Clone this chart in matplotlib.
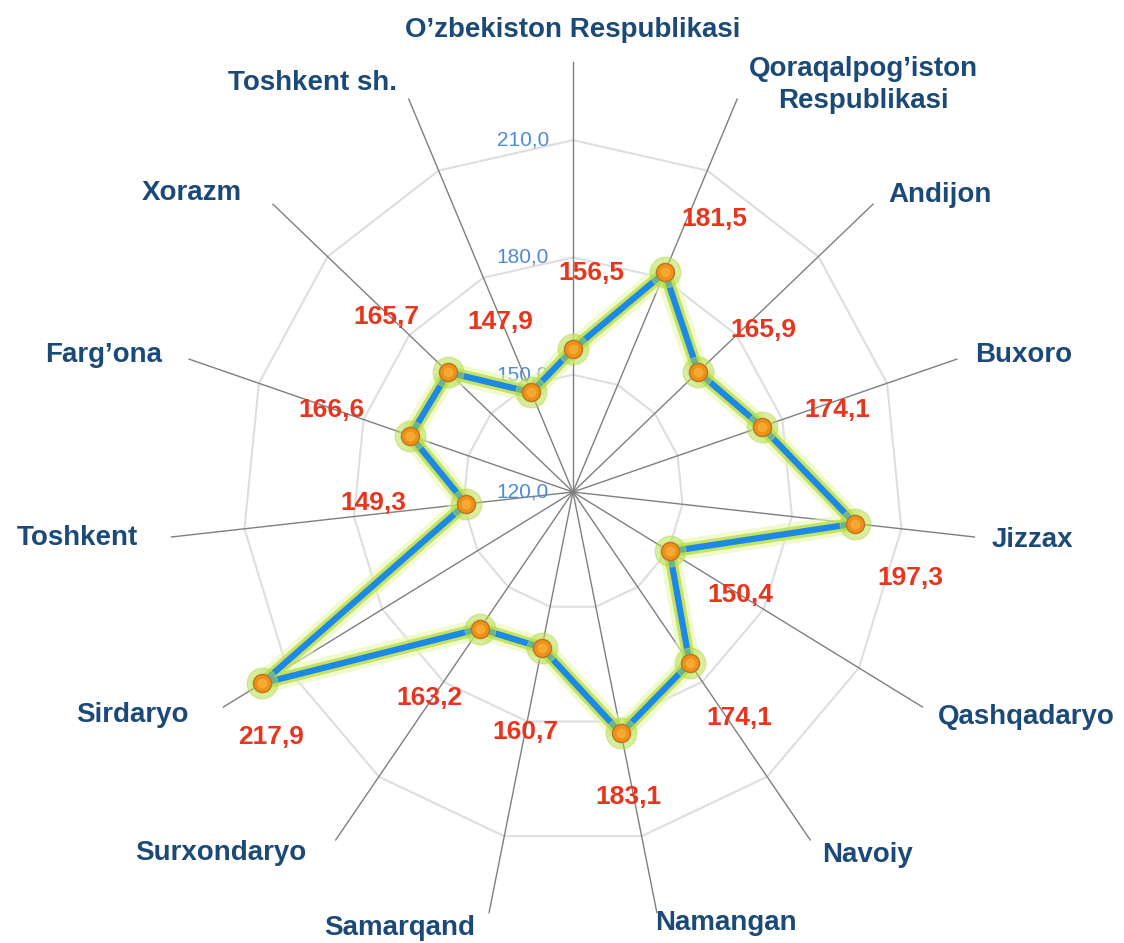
import numpy as np
import matplotlib
matplotlib.use("Agg")
import matplotlib.pyplot as plt

# Regions, clockwise from the top
regions = [
    "O’zbekiston Respublikasi", "Qoraqalpog’iston\nRespublikasi", "Andijon", "Buxoro",
    "Jizzax", "Qashqadaryo", "Navoiy", "Namangan", "Samarqand", "Surxondaryo",
    "Sirdaryo", "Toshkent", "Farg’ona", "Xorazm", "Toshkent sh.",
]
values = [156.5, 181.5, 165.9, 174.1, 197.3, 150.4, 174.1, 183.1,
          160.7, 163.2, 217.9, 149.3, 166.6, 165.7, 147.9]
ring_values = [150.0, 180.0, 210.0]
tick_values = [120.0, 150.0, 180.0, 210.0]

r_min, r_max = 120, 232
spoke_end = 230

# label placement (pixel offsets)
value_offsets = [(18, 76), (50, 53), (65, 42), (76, 17), (55, -54), (71, -44), (50, -55),
                 (7, -64), (-17, -84), (-50, -69), (9, -54), (-93, 1), (-79, 26),
                 (-62, 55), (-31, 70)]
name_offsets = [(0, 32), (126, 14), (15, 9), (18, 4), (17, -3), (15, -10), (12, -15),
                (-2, -10), (-14, -15), (-29, -13), (-35, -8), (-34, -1), (-27, 4),
                (-31, 11), (-12, 16)]
name_ha = ["center", "center", "left", "left", "left", "left", "left", "left",
           "right", "right", "right", "right", "right", "right", "right"]

plt.rcParams["font.family"] = ["Liberation Sans", "DejaVu Sans"]

n = len(regions)
angles = np.linspace(0, 2 * np.pi, n, endpoint=False)
closed_angles = np.append(angles, angles[0])
closed_values = np.append(values, values[0])

fig = plt.figure(figsize=(11.24, 9.43), dpi=100)
ax = fig.add_axes([0.1441, 0.0139, 0.7313, 0.9287], projection="polar")
ax.set_aspect("auto")  # slightly wider-than-tall spider like the original
ax.set_theta_zero_location("N")
ax.set_theta_direction(-1)
ax.set_ylim(r_min, r_max)
ax.set_xticks([])
ax.set_yticks([])
ax.grid(False)
ax.spines["polar"].set_visible(False)
ax.patch.set_alpha(0)

# polygon rings
for r in ring_values:
    ax.plot(closed_angles, [r] * (n + 1), color="#DEDEDE", lw=1.5, zorder=1)

# spokes
for a in angles:
    ax.plot([a, a], [r_min, spoke_end], color="#7F7F7F", lw=1.0, zorder=2)

for t in tick_values:
    ax.annotate(f"{t:.1f}".replace(".", ","), xy=(0, t), xytext=(-24, 0),
                textcoords="offset pixels", ha="right", va="center",
                fontsize=15, color="#4F8BD6", zorder=3)

# glowing series line
ax.plot(closed_angles, closed_values, color="#E8F7B0", lw=15, alpha=0.6,
        solid_joinstyle="round", zorder=4)
ax.plot(closed_angles, closed_values, color="#BCE04E", lw=9, alpha=0.85,
        solid_joinstyle="round", zorder=4)
ax.plot(closed_angles, closed_values, color="#1E88E5", lw=4.5, solid_joinstyle="round", zorder=5)

ax.plot(angles, values, "o", ms=22, color="#B5DC45", alpha=0.5, zorder=6)
ax.plot(angles, values, "o", ms=13, color="#F0901A", markeredgecolor="#B9781E",
        markeredgewidth=1, zorder=7)
ax.plot(angles, values, "o", ms=6, color="#F8B43A", alpha=0.7, zorder=8)

for a, v, off in zip(angles, values, value_offsets):
    ax.annotate(f"{v:.1f}".replace(".", ","), xy=(a, v), xytext=off,
                textcoords="offset pixels", ha="center", va="center",
                fontsize=19, fontweight="bold", color="#E8361E", zorder=9,
                annotation_clip=False)

for a, name, off, ha in zip(angles, regions, name_offsets, name_ha):
    ax.annotate(name, xy=(a, spoke_end), xytext=off, textcoords="offset pixels",
                ha=ha, va="center", multialignment="center", linespacing=1.3,
                fontsize=20, fontweight="bold", color="#1B4A78", zorder=9,
                annotation_clip=False)

fig.savefig("out.png", dpi=100, facecolor="white")
